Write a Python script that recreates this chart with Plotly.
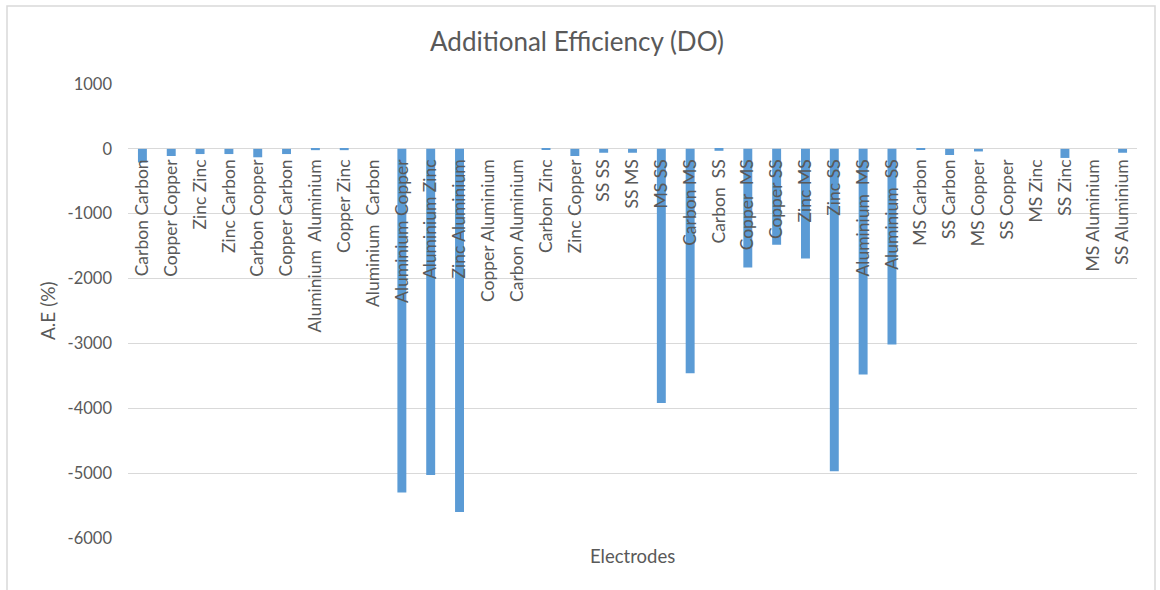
import plotly.graph_objects as go

# Electrode pairs and their additional efficiency (%) in DO
electrodes = [
    "Carbon Carbon", "Copper Copper", "Zinc Zinc", "Zinc Carbon", "Carbon Copper",
    "Copper Carbon", "Aluminium  Aluminium", "Copper Zinc", "Aluminium  Carbon",
    "Aluminium Copper", "Aluminium Zinc", "Zinc Aluminium", "Copper Aluminium",
    "Carbon Aluminium", "Carbon Zinc", "Zinc Copper", "SS SS", "SS MS", "MS SS",
    "Carbon MS", "Carbon  SS", "Copper  MS", "Copper SS", "Zinc MS", "Zinc SS",
    "Aluminium  MS", "Aluminium  SS", "MS Carbon", "SS Carbon", "MS Copper",
    "SS Copper", "MS Zinc", "SS Zinc", "MS Aluminium", "SS Aluminium",
]
additional_efficiency = [
    -210, -110, -80, -80, -130,
    -80, -20, -20, 0,
    -5300, -5030, -5600, 0,
    0, -15, -110, -60, -60, -3920,
    -3460, -30, -1830, -1480, -1690, -4970,
    -3480, -3015, -15, -95, -40,
    0, 0, -140, 0, -60,
]
y_ticks = [1000, 0, -1000, -2000, -3000, -4000, -5000, -6000]
y_min, y_max = -6000, 1000

FONT = "Lato, Open Sans, sans-serif"
TEXT = "#595959"
GRID = "#d9d9d9"

fig = go.Figure(
    go.Bar(
        x=electrodes,
        y=additional_efficiency,
        marker=dict(color="#5b9bd5", line=dict(width=0)),
        width=0.31,
    )
)

# Category axis sits on the zero line, labels hang down from it
zero_pos = (0 - y_min) / (y_max - y_min)

fig.update_layout(
    width=1160,
    height=590,
    margin=dict(l=128, r=23, t=84, b=52),
    paper_bgcolor="white",
    plot_bgcolor="white",
    showlegend=False,
    font=dict(family=FONT, color=TEXT, size=16),
    xaxis=dict(
        type="category",
        anchor="free",
        position=zero_pos,
        side="bottom",
        tickangle=-90,
        ticks="",
        showgrid=False,
        showline=False,
        zeroline=False,
        tickfont=dict(family=FONT, size=17.5, color=TEXT),
        ticklabelstandoff=6,
        range=[-0.5, len(electrodes) - 0.5],
    ),
    yaxis=dict(
        range=[y_min, y_max],
        tickvals=y_ticks,
        ticktext=[str(v) for v in y_ticks],
        showgrid=True,
        gridcolor=GRID,
        gridwidth=1,
        zeroline=True,
        zerolinecolor=GRID,
        zerolinewidth=1,
        showline=False,
        ticks="",
        ticklabelstandoff=15,
        tickfont=dict(family=FONT, size=16.5, color=TEXT),
    ),
    annotations=[
        dict(text="Additional Efficiency (DO)", xref="paper", yref="paper",
             x=(576.5 - 128) / 1009, y=(538 - 41) / 454, xanchor="center", yanchor="middle",
             showarrow=False, font=dict(family=FONT, size=26, color=TEXT)),
        dict(text="Electrodes", xref="paper", yref="paper",
             x=(632 - 128) / 1009, y=(538 - 556) / 454, xanchor="center", yanchor="middle",
             showarrow=False, font=dict(family=FONT, size=18.5, color=TEXT)),
        dict(text="A.E (%)", xref="paper", yref="paper",
             x=(47 - 128) / 1009, y=(538 - 311) / 454, xanchor="center", yanchor="middle",
             textangle=-90, showarrow=False, font=dict(family=FONT, size=19, color=TEXT)),
    ],
    shapes=[
        dict(type="rect", xref="paper", yref="paper",
             x0=(7 - 128) / 1009, x1=(1155 - 128) / 1009,
             y0=(538 - 600) / 454, y1=(538 - 6) / 454,
             line=dict(color=GRID, width=1.5), fillcolor="rgba(0,0,0,0)", layer="below"),
    ],
)

fig.write_html("out.html")
